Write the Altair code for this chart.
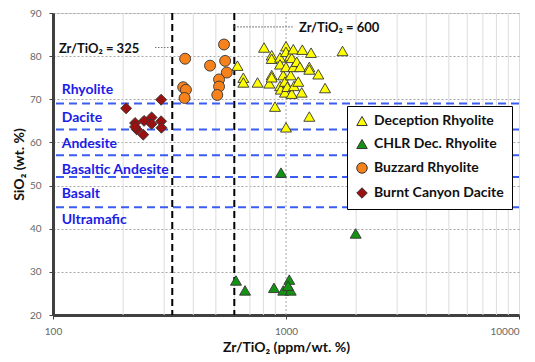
import altair as alt
import pandas as pd

# ---------------- data ----------------
groups = ["Deception Rhyolite", "CHLR Dec. Rhyolite", "Buzzard Rhyolite", "Burnt Canyon Dacite"]
colors = ["#ffff00", "#129412", "#f7821b", "#9b1010"]
shapes = ["triangle-up", "triangle-up", "circle", "diamond"]

dec_x = [619, 656, 656, 755, 805, 848, 868, 868, 868, 868, 943, 943, 943, 950, 973, 990, 990,
         1000, 1000, 1000, 1000, 1013, 1040, 1048, 1058, 1058, 1075, 1075, 1082, 1112, 1129,
         1148, 1168, 1175, 1259, 1259, 1259, 1281, 1376, 1471, 1748, 897]
dec_y = [77.8, 75.0, 73.9, 73.9, 82.0, 73.7, 80.2, 79.4, 75.6, 75.1, 79.7, 78.1, 73.1, 72.3, 75.6, 74.1, 71.6,
         82.3, 81.0, 77.5, 63.5, 72.9, 80.0, 75.6, 79.6, 71.3, 81.6, 77.5, 73.1, 78.7, 74.1,
         77.5, 71.6, 81.5, 77.5, 76.9, 66.0, 80.8, 75.8, 72.6, 81.2, 68.3]

chlr_x = [610, 667, 888, 973, 1033, 1048, 1020, 952, 1991]
chlr_y = [28.0, 25.7, 26.3, 25.7, 28.2, 25.7, 26.8, 53.0, 38.9]

buz_x = [542, 369, 472, 548, 557, 516, 516, 507, 362, 372, 367]
buz_y = [82.7, 79.4, 77.8, 78.9, 76.2, 74.6, 72.95, 71.0, 72.8, 72.2, 70.3]

bcd_x = [206, 291, 225, 246, 265, 291, 292, 229, 244, 265, 225]
bcd_y = [67.9, 69.9, 64.5, 65.0, 65.8, 64.9, 63.4, 63.0, 61.8, 64.3, 63.6]

rock_names = ["Rhyolite", "Dacite", "Andesite", "Basaltic Andesite", "Basalt", "Ultramafic"]
rock_label_y = [72.1, 65.7, 59.7, 53.7, 48.0, 42.0]
rock_label_x = [109] * 6
boundaries = [69, 63, 57, 52, 45]

ratio_lines = [325, 600]
ann_text = ["Zr/TiO\u2082 = 325", "Zr/TiO\u2082 = 600"]
ann_x = [106, 1137]
ann_y = [81.7, 86.5]
conn_x = [274, 600]
conn_x2 = [325, 1068]
conn_y = [82.0, 86.8]

minor_x = [200, 300, 400, 500, 600, 700, 800, 900, 2000, 3000, 4000, 5000, 6000, 7000, 8000, 9000]
major_dotted_x = [1000]
x_ticks = [100, 1000, 10000]
y_ticks = [20, 30, 40, 50, 60, 70, 80, 90]

# ---------------- tables ----------------
pts = pd.concat([
    pd.DataFrame({"x": dec_x, "y": dec_y, "group": groups[0]}),
    pd.DataFrame({"x": chlr_x, "y": chlr_y, "group": groups[1]}),
    pd.DataFrame({"x": buz_x, "y": buz_y, "group": groups[2]}),
    pd.DataFrame({"x": bcd_x, "y": bcd_y, "group": groups[3]}),
])

FONT = "Lato"
xscale = alt.Scale(type="log", domain=[100, 10000], nice=False)
yscale = alt.Scale(domain=[20, 90], nice=False, zero=False)
xaxis = alt.Axis(title="Zr/TiO\u2082 (ppm/wt. %)", values=x_ticks, format="d", grid=False,
                 labelFont=FONT, labelFontSize=10, labelColor="#666", labelPadding=7,
                 labelAlign=alt.condition("datum.value >= 10000", alt.value("right"), alt.value("center")),
                 tickSize=4, tickColor="#404040", domainColor="#404040", domainWidth=3,
                 titleFont=FONT, titleFontSize=14, titleFontWeight="bold", titleColor="#111",
                 titlePadding=4, labelFlush=False)
yaxis = alt.Axis(title="SiO\u2082 (wt. %)", values=y_ticks, grid=True, gridDash=[2, 2], gridColor="#a6a6a6",
                 labelFont=FONT, labelFontSize=10, labelColor="#666", labelPadding=8,
                 tickSize=4, tickColor="#404040", domainColor="#404040", domainWidth=3,
                 titleFont=FONT, titleFontSize=14, titleFontWeight="bold", titleColor="#111",
                 titlePadding=3)


def X(f):
    return alt.X(f, type="quantitative", scale=xscale, axis=xaxis)


def Y(f):
    return alt.Y(f, type="quantitative", scale=yscale, axis=yaxis)


minor = alt.Chart(pd.DataFrame({"x": minor_x})).mark_rule(color="#dcdcdc", strokeWidth=1).encode(x=X("x"))
dotted = alt.Chart(pd.DataFrame({"x": major_dotted_x})).mark_rule(
    color="#a6a6a6", strokeWidth=1, strokeDash=[2, 2]).encode(x=X("x"))
blue = alt.Chart(pd.DataFrame({"y": boundaries})).mark_rule(
    color="#3a5cf0", strokeWidth=2, strokeDash=[8, 5]).encode(y=Y("y"))
black = alt.Chart(pd.DataFrame({"x": ratio_lines})).mark_rule(
    color="black", strokeWidth=2, strokeDash=[7, 4]).encode(x=X("x"))
conn = alt.Chart(pd.DataFrame({"x": conn_x, "x2": conn_x2, "y": conn_y})).mark_rule(
    color="#777", strokeWidth=1.2, strokeDash=[1.5, 1.5]).encode(x=X("x"), x2="x2", y=Y("y"))
rock_txt = alt.Chart(pd.DataFrame({"x": rock_label_x, "y": rock_label_y, "t": rock_names})).mark_text(
    align="left", baseline="middle", font=FONT, fontSize=14, fontWeight="bold", color="#1c1ce8"
).encode(x=X("x"), y=Y("y"), text="t:N")
ann = alt.Chart(pd.DataFrame({"x": ann_x, "y": ann_y, "t": ann_text})).mark_text(
    align="left", baseline="middle", font=FONT, fontSize=13, fontWeight="bold", color="#111"
).encode(x=X("x"), y=Y("y"), text="t:N")

legend = alt.Legend(title=None, orient="none", legendX=294, legendY=93, fillColor="white",
                    strokeColor="black", padding=8, labelFont=FONT, labelFontSize=14,
                    labelFontWeight="bold", labelColor="#111", symbolSize=110, rowPadding=9,
                    labelOffset=5, symbolStrokeColor="#333", symbolStrokeWidth=1, labelLimit=200)

points = alt.Chart(pts).mark_point(filled=True, opacity=1, size=120, stroke="#333", strokeWidth=0.9).encode(
    x=X("x"), y=Y("y"),
    color=alt.Color("group:N", scale=alt.Scale(domain=groups, range=colors), legend=legend),
    shape=alt.Shape("group:N", scale=alt.Scale(domain=groups, range=shapes), legend=legend),
)

chart = alt.layer(minor, dotted, blue, black, conn, rock_txt, ann, points).properties(
    width=466, height=302,
    autosize=alt.AutoSizeParams(type="none"),
    padding={"left": 45, "top": 5, "right": 8, "bottom": 39},
).configure_view(stroke="black", strokeWidth=2).configure(background="white")

chart.save("out.html", embed_options={"renderer": "svg", "actions": False})
